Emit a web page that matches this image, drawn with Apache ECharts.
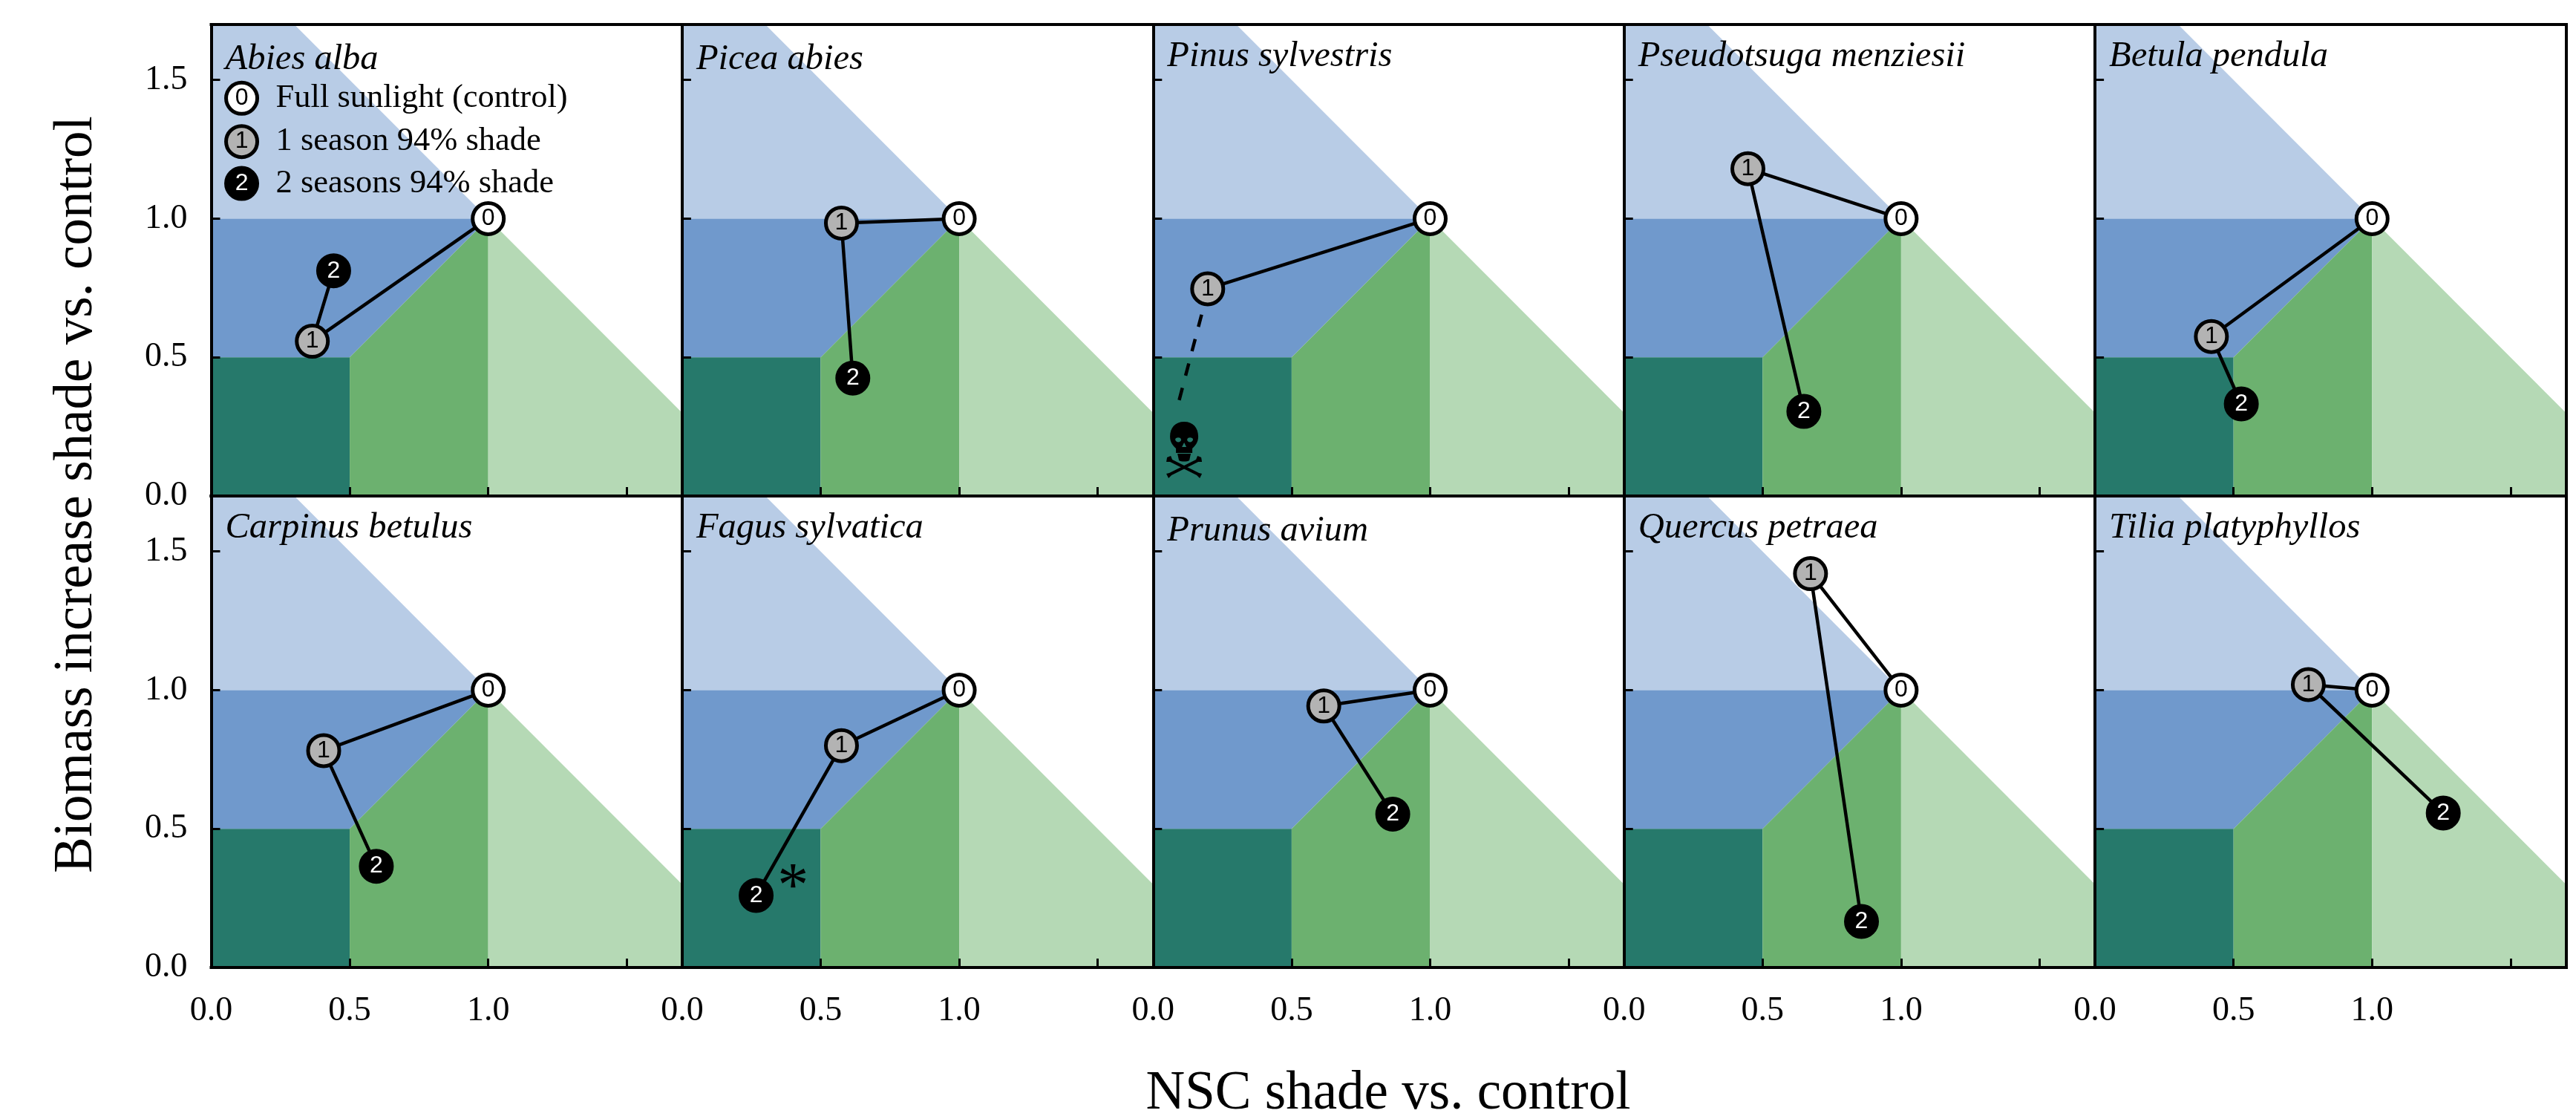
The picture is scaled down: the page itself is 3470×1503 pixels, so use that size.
<!DOCTYPE html>
<html>
<head>
<meta charset="utf-8">
<style>html,body{margin:0;padding:0;background:#fff}#c{width:3470px;height:1503px}</style>
<script src="https://cdn.jsdelivr.net/npm/echarts@6/dist/echarts.min.js"></script>
</head>
<body>
<div id="c"></div>
<script>
const species = ['Abies alba','Picea abies','Pinus sylvestris','Pseudotsuga menziesii','Betula pendula','Carpinus betulus','Fagus sylvatica','Prunus avium','Quercus petraea','Tilia platyphyllos'];
const control = [1.0, 1.0];
const oneSeason = [[0.365,0.558],[0.575,0.984],[0.197,0.747],[0.447,1.18],[0.42,0.575],[0.406,0.782],[0.575,0.80],[0.616,0.943],[0.673,1.42],[0.77,1.02]];
const twoSeasons = [[0.442,0.812],[0.616,0.425],null,[0.649,0.305],[0.528,0.332],[0.596,0.365],[0.267,0.26],[0.865,0.553],[0.857,0.166],[1.257,0.557]];
const pinusDash = [[0.175,0.654],[0.09,0.33]];
const pinusDead = [0.112,0.166];
const fagusStar = [0.40,0.325];
const xTicks = [0,0.5,1,1.5];
const xLabels = [0,0.5,1];
const yTicks = [0,0.5,1,1.5];
const axisMax = 1.7;
const regionLightBlue = [[0,1],[1,1],[0.3,1.7],[0,1.7]];
const regionBlue = [[0,0.5],[0.5,0.5],[1,1],[0,1]];
const regionTeal = [[0,0],[0.5,0],[0.5,0.5],[0,0.5]];
const regionGreen = [[0.5,0],[1,0],[1,1],[0.5,0.5]];
const regionLightGreen = [[1,0],[1.7,0],[1.7,0.3],[1,1]];
const regionColors = ['#B8CCE6','#7099CC','#26796B','#6CB16F','#B5D9B5'];
const regions = [regionLightBlue,regionBlue,regionTeal,regionGreen,regionLightGreen];
const legendNames = ['Full sunlight (control)','1 season 94% shade','2 seasons 94% shade'];
const legendPoints = [[0.11,1.434],[0.11,1.278],[0.11,1.127]];
const xTitle = 'NSC shade vs. control';
const yTitle = 'Biomass increase shade vs. control';
const titleTopOffset = [23,23,19,19,19,19,19,23,19,19];

const SERIF = '"Liberation Serif","Times New Roman",serif';
const SANS = '"Liberation Sans",Arial,sans-serif';
const skull = 'path://M24 0C12 0 5 8 5 20C5 28 9 32 13 36L13 42L35 42L35 36C39 32 43 28 43 20C43 8 36 0 24 0Z' +
 'M12 24C12 21 19 20 20 24C20 28 13 29 12 24Z' +
 'M28 24C29 20 36 21 36 24C35 29 28 28 28 24Z' +
 'M24 28L27 34L21 34Z' +
 'M15 43L33 43L31 52C28 54 20 54 17 52Z' +
 'M1 48L6 46L8 51L44 69L48 70L45 76L41 72L5 54L0 54Z' +
 'M48 54L43 54L7 72L3 76L0 70L4 69L40 51L42 46L47 48Z';

const L0 = 284.5, W = 634.4, T0 = 33, H = 635;
const grid = [], xAxis = [], yAxis = [], series = [], title = [];
const stages = [
 {fill:'#ffffff', text:'#000000', digit:'0'},
 {fill:'#B3B3B3', text:'#000000', digit:'1'},
 {fill:'#000000', text:'#ffffff', digit:'2'}
];
const frame = {show:true, onZero:false, lineStyle:{color:'#000', width:4, cap:'square'}};
const tick = {show:true, inside:true, length:12, lineStyle:{color:'#000', width:3}};
const fmt = v => Number(v).toFixed(1);

function markerItem(pt, k){
  const s = stages[k];
  return {value:pt, itemStyle:{color:s.fill, borderColor:'#000', borderWidth:5, opacity:1},
    label:{show:true, position:'inside', formatter:s.digit, color:s.text, fontFamily:SANS, fontSize:32}};
}

species.forEach((name,i)=>{
  const c = i%5, r = Math.floor(i/5);
  const left = L0 + c*W, top = T0 + r*H;
  grid.push({left:left, top:top, width:W, height:H, show:false});
  const xi = xAxis.length, yi = yAxis.length;
  xAxis.push({gridIndex:i, type:'value', position:'bottom', min:0, max:axisMax, z:6, splitLine:{show:false}, axisLine:frame,
    axisTick:Object.assign({customValues:xTicks},tick),
    axisLabel:{show:r===1, customValues:xLabels, formatter:fmt, margin:36, color:'#000', fontFamily:SERIF, fontSize:46, hideOverlap:false, showMinLabel:true, showMaxLabel:true}});
  xAxis.push({gridIndex:i, type:'value', position:'top', min:0, max:axisMax, z:6, splitLine:{show:false}, axisLine:frame, axisTick:{show:false}, axisLabel:{show:false}});
  yAxis.push({gridIndex:i, type:'value', position:'left', min:0, max:axisMax, z:6, splitLine:{show:false}, axisLine:frame,
    axisTick:Object.assign({customValues:yTicks},tick),
    axisLabel:{show:c===0, customValues:yTicks, formatter:fmt, margin:32, color:'#000', fontFamily:SERIF, fontSize:46, hideOverlap:false, showMinLabel:true}});
  yAxis.push({gridIndex:i, type:'value', position:'right', min:0, max:axisMax, z:6, splitLine:{show:false}, axisLine:frame, axisTick:{show:false}, axisLabel:{show:false}});

  regions.forEach((poly,k)=>{
    series.push({type:'custom', name:'region', xAxisIndex:xi, yAxisIndex:yi, z:1, silent:true, clip:false,
      data:[0],
      renderItem:(p,api)=>({type:'polygon', shape:{points:poly.map(q=>api.coord(q))}, style:{fill:regionColors[k]}})});
  });

  const data = [markerItem(control,0), markerItem(oneSeason[i],1)];
  if (twoSeasons[i]) data.push(markerItem(twoSeasons[i],2));
  series.push({type:'line', name:name, xAxisIndex:xi, yAxisIndex:yi, z:8, clip:false, animation:false, silent:true,
    data:data, symbol:'circle', symbolSize:42, showSymbol:true, showAllSymbol:true,
    lineStyle:{color:'#000', width:4.5, cap:'butt'}});

  title.push({text:name, left:left+19, top:top+titleTopOffset[i], padding:0, textStyle:{color:'#000', fontFamily:SERIF, fontStyle:'italic', fontWeight:'normal', fontSize:48.5}});
});

// legend in the first panel
series.push({type:'scatter', name:'legend', xAxisIndex:0, yAxisIndex:0, z:8, silent:true, symbol:'circle', symbolSize:42,
  itemStyle:{opacity:1}, data:legendPoints.map((p,k)=>markerItem(p,k))});
series.push({type:'scatter', name:'legend text', xAxisIndex:0, yAxisIndex:0, z:8, silent:true, symbolSize:0,
  itemStyle:{opacity:1},
  data:legendPoints.map((p,k)=>({value:p, label:{show:true, position:'right', distance:46, formatter:legendNames[k], color:'#000', fontFamily:SERIF, fontSize:44.5}}))});

// Pinus dashed path and death marker (panel index 2)
series.push({type:'line', name:'Pinus decline', xAxisIndex:4, yAxisIndex:4, z:8, silent:true, symbol:'none', clip:false,
  data:pinusDash, lineStyle:{color:'#000', width:4.5, type:[17,17]}});
series.push({type:'scatter', name:'Pinus dead', xAxisIndex:4, yAxisIndex:4, z:8, silent:true, symbol:skull, symbolSize:[48,76],
  itemStyle:{color:'#000', opacity:1}, data:[pinusDead]});
// Fagus asterisk (panel index 6)
series.push({type:'scatter', name:'Fagus significant', xAxisIndex:12, yAxisIndex:12, z:8, silent:true, symbolSize:0,
  itemStyle:{opacity:1},
  data:[{value:fagusStar, label:{show:true, position:'inside', formatter:'*', color:'#000', fontFamily:SERIF, fontSize:84, offset:[0,16]}}]});

const chart = echarts.init(document.getElementById('c'), null, {renderer:'canvas'});
chart.setOption({
  animation:false, backgroundColor:'#fff', grid, xAxis, yAxis, series, title,
  graphic:[
    {type:'text', z:10, x:1870, y:1474, style:{text:xTitle, align:'center', verticalAlign:'middle', fill:'#000', font:'73px '+SERIF}},
    {type:'text', z:10, x:104, y:666, rotation:Math.PI/2, style:{text:yTitle, align:'center', verticalAlign:'middle', fill:'#000', font:'73px '+SERIF}}
  ]
});
</script>
</body>
</html>
